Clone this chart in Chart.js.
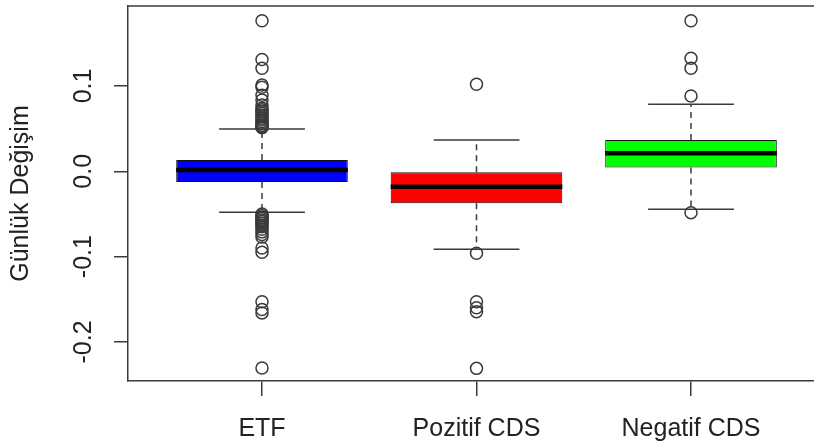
<!DOCTYPE html>
<html>
<head>
<meta charset="utf-8">
<script src="https://cdn.jsdelivr.net/npm/chart.js@4"></script>
<style>
  html, body { margin: 0; padding: 0; background: #fff; overflow: hidden; }
  #wrap { width: 814px; height: 446px; }
</style>
</head>
<body>
<div id="wrap"><canvas id="myChart"></canvas></div>
<script>
// group names and box stats
const groups = ['ETF', 'Pozitif CDS', 'Negatif CDS'];
const q1 = [-0.0125, -0.0375, 0.0043];
const med = [0.0015, -0.018, 0.021];
const q3 = [0.0132, -0.0012, 0.0367];
const whiskLo = [-0.048, -0.0914, -0.0445];
const whiskHi = [0.0496, 0.0367, 0.0785];
const fills = ['#0000ff', '#ff0000', '#00ff00'];

// outliers per group
const outEtf = [0.1765, 0.131, 0.1207, 0.101, 0.0984, 0.089, 0.0835, 0.0777, 0.074,
  0.072, 0.070, 0.068, 0.066, 0.064, 0.062, 0.060, 0.058, 0.056, 0.054, 0.053, 0.052, 0.051,
  -0.050, -0.052, -0.054, -0.055, -0.057, -0.059, -0.061, -0.063, -0.065, -0.068, -0.071,
  -0.074, -0.077, -0.090, -0.095, -0.153, -0.162, -0.166, -0.2305];
const outPoz = [0.102, -0.096, -0.153, -0.160, -0.1645, -0.231];
const outNeg = [0.1765, 0.1324, 0.1207, 0.0882, -0.0485];

const yTicks = [-0.2, -0.1, 0.0, 0.1];
const yTitle = 'Günlük Değişim';

const ink = '#3a3a3a';
const FONT = 'Liberation Sans, Arial, sans-serif';

let ctx = document.getElementById('myChart');

function boxDatasets() {
  let ds = [];
  // boxes as floating bars
  ds.push({
    type: 'bar',
    data: groups.map((g, i) => ({ x: i + 1, y: [q1[i], q3[i]] })),
    backgroundColor: fills,
    borderColor: '#111',
    borderWidth: 1,
    borderSkipped: false,
    categoryPercentage: 0.8,
    barPercentage: 1.0,
    order: 3
  });
  groups.forEach((g, i) => {
    let x = i + 1;
    let line = (pts, extra) => Object.assign({
      type: 'line',
      data: pts,
      borderColor: ink,
      borderWidth: 1.5,
      pointRadius: 0,
      fill: false,
      order: 2
    }, extra || {});
    // median
    ds.push(line([{ x: x - 0.4, y: med[i] }, { x: x + 0.4, y: med[i] }], { borderColor: '#000', borderWidth: 4.5, order: 1, borderCapStyle: 'butt' }));
    // whiskers
    ds.push(line([{ x: x, y: q3[i] }, { x: x, y: whiskHi[i] }], { borderDash: [6, 5] }));
    ds.push(line([{ x: x, y: q1[i] }, { x: x, y: whiskLo[i] }], { borderDash: [6, 5] }));
    // caps
    ds.push(line([{ x: x - 0.2, y: whiskHi[i] }, { x: x + 0.2, y: whiskHi[i] }]));
    ds.push(line([{ x: x - 0.2, y: whiskLo[i] }, { x: x + 0.2, y: whiskLo[i] }]));
  });
  // outliers
  [outEtf, outPoz, outNeg].forEach((arr, i) => {
    ds.push({
      type: 'scatter',
      data: arr.map(v => ({ x: i + 1, y: v })),
      pointStyle: 'circle',
      pointRadius: 6,
      pointBorderWidth: 1.5,
      borderColor: ink,
      backgroundColor: 'rgba(0,0,0,0)',
      pointBackgroundColor: 'rgba(0,0,0,0)',
      pointBorderColor: ink,
      order: 0
    });
  });
  return ds;
}

// top frame line + rotated y tick labels, like R
const framePlugin = {
  id: 'frame',
  afterDraw(chart) {
    let c = chart.ctx, a = chart.chartArea, y = chart.scales.y;
    c.save();
    c.strokeStyle = ink;
    c.lineWidth = 1.5;
    c.beginPath();
    c.moveTo(a.left, a.top);
    c.lineTo(a.right, a.top);
    c.stroke();
    c.fillStyle = '#222';
    c.font = '25px ' + FONT;
    c.textAlign = 'center';
    c.textBaseline = 'middle';
    yTicks.forEach(v => {
      let py = y.getPixelForValue(v);
      c.save();
      c.translate(84, py);
      c.rotate(-Math.PI / 2);
      c.fillText(v.toFixed(1), 0, 0);
      c.restore();
    });
    c.restore();
  }
};

let chart = new Chart(ctx, {
  type: 'bar',
  data: { datasets: boxDatasets() },
  options: {
    responsive: true,
    maintainAspectRatio: false,
    animation: false,
    layout: { autoPadding: false, padding: { top: 6, right: 0, bottom: 0, left: 0 } },
    plugins: { legend: { display: false }, tooltip: { enabled: false } },
    scales: {
      x: {
        type: 'linear',
        min: 0.3753,
        max: 3.5734,
        offset: false,
        afterBuildTicks: s => { s.ticks = groups.map((g, i) => ({ value: i + 1 })); },
        afterFit: s => { s.height = 65; s.paddingLeft = 0; s.paddingRight = 0; },
        ticks: {
          autoSkip: false,
          maxRotation: 0,
          padding: 18,
          color: '#222',
          font: { family: FONT, size: 25 },
          callback: v => groups[Math.round(v) - 1]
        },
        grid: { offset: false, drawOnChartArea: false, drawTicks: true, tickLength: 15, color: ink, lineWidth: 1.5 },
        border: { display: true, color: ink, width: 1.5 }
      },
      y: {
        type: 'linear',
        min: -0.2458,
        max: 0.1937,
        afterBuildTicks: s => { s.ticks = yTicks.map(v => ({ value: v })); },
        afterFit: s => { s.width = 128; },
        ticks: { display: false },
        title: {
          display: true,
          text: yTitle,
          color: '#222',
          font: { family: FONT, size: 25 },
          padding: { top: 6, bottom: 0 }
        },
        grid: { drawOnChartArea: false, drawTicks: true, tickLength: 14, color: ink, lineWidth: 1.5 },
        border: { display: true, color: ink, width: 1.5 }
      }
    }
  },
  plugins: [framePlugin]
});
</script>
</body>
</html>
